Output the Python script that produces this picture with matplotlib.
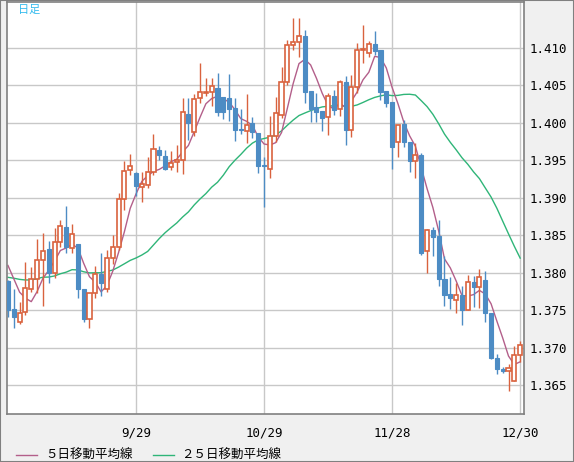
import numpy as np
import pandas as pd
import matplotlib
matplotlib.use("Agg")
import matplotlib.pyplot as plt
from matplotlib.patches import Rectangle

plt.rcParams['font.family'] = ['Noto Sans CJK JP', 'DejaVu Sans']

opens = [1.3789,1.3752,1.3735,1.3748,1.3779,1.3792,1.3817,1.3832,1.3800,1.3841,
         1.3861,1.3833,1.3838,1.3779,1.3739,1.3773,1.3798,1.3779,1.3820,1.3834,
         1.3898,1.3937,1.3933,1.3914,1.3917,1.3935,1.3964,1.3956,1.3941,1.3948,
         1.3950,1.4012,1.3988,1.4033,1.4040,1.4041,1.4046,1.4034,1.4033,1.4020,
         1.3992,1.3989,1.4000,1.3987,1.3944,1.3938,1.3983,1.4010,1.4055,1.4104,
         1.4108,1.4116,1.4042,1.4021,1.4016,1.4008,1.4036,1.4018,1.4055,1.3991,
         1.4048,1.4097,1.4093,1.4105,1.4097,1.4042,1.4028,1.3974,1.3998,1.3975,
         1.3949,1.3957,1.3829,1.3857,1.3849,1.3792,1.3772,1.3764,1.3771,1.3751,
         1.3788,1.3781,1.3791,1.3746,1.3686,1.3672,1.3669,1.3656,1.3690]
highs = [1.3790,1.3779,1.3761,1.3815,1.3808,1.3845,1.3853,1.3843,1.3860,1.3870,
         1.3889,1.3865,1.3838,1.3779,1.3773,1.3809,1.3826,1.3831,1.3850,1.3907,
         1.3949,1.3959,1.3934,1.3935,1.3955,1.3985,1.3969,1.3964,1.3963,1.3970,
         1.4033,1.4033,1.4039,1.4080,1.4060,1.4060,1.4066,1.4034,1.4065,1.4033,
         1.4018,1.4038,1.4008,1.3987,1.3955,1.4009,1.4034,1.4075,1.4111,1.4140,
         1.4140,1.4124,1.4042,1.4040,1.4016,1.4040,1.4044,1.4057,1.4062,1.4064,
         1.4106,1.4131,1.4109,1.4123,1.4097,1.4042,1.4028,1.3997,1.4004,1.3975,
         1.3973,1.3960,1.3859,1.3861,1.3870,1.3823,1.3795,1.3786,1.3782,1.3797,
         1.3796,1.3805,1.3803,1.3746,1.3692,1.3674,1.3678,1.3702,1.3709]
lows = [1.3741,1.3726,1.3732,1.3744,1.3774,1.3773,1.3756,1.3787,1.3793,1.3834,
        1.3826,1.3827,1.3766,1.3734,1.3727,1.3767,1.3769,1.3774,1.3812,1.3830,
        1.3884,1.3931,1.3902,1.3895,1.3913,1.3931,1.3950,1.3937,1.3937,1.3935,
        1.3932,1.3977,1.3983,1.4026,1.4036,1.4023,1.4009,1.4005,1.4002,1.3976,
        1.3985,1.3973,1.3980,1.3933,1.3888,1.3927,1.3975,1.4006,1.4050,1.4097,
        1.4088,1.4026,1.4001,1.4001,1.3989,1.3984,1.4010,1.4009,1.3970,1.3981,
        1.4040,1.4080,1.4088,1.4090,1.4031,1.4021,1.3938,1.3954,1.3968,1.3935,
        1.3926,1.3824,1.3800,1.3823,1.3783,1.3756,1.3752,1.3747,1.3730,1.3750,
        1.3755,1.3753,1.3734,1.3685,1.3665,1.3666,1.3642,1.3656,1.3681]
closes = [1.3750,1.3741,1.3746,1.3780,1.3792,1.3817,1.3829,1.3800,1.3841,1.3863,
          1.3834,1.3852,1.3778,1.3738,1.3773,1.3798,1.3787,1.3820,1.3834,1.3898,
          1.3936,1.3943,1.3916,1.3918,1.3935,1.3965,1.3957,1.3939,1.3946,1.3951,
          1.4014,1.4000,1.4032,1.4041,1.4041,1.4049,1.4015,1.4015,1.4019,1.3990,
          1.3990,1.3997,1.3988,1.3942,1.3943,1.3983,1.4013,1.4055,1.4104,1.4108,
          1.4116,1.4041,1.4018,1.4015,1.4007,1.4036,1.4017,1.4055,1.3990,1.4048,
          1.4097,1.4098,1.4105,1.4096,1.4041,1.4027,1.3968,1.3997,1.3974,1.3949,
          1.3957,1.3826,1.3857,1.3848,1.3792,1.3771,1.3766,1.3770,1.3751,1.3788,
          1.3781,1.3794,1.3746,1.3686,1.3672,1.3669,1.3673,1.3690,1.3704]
# closes before the visible window (estimated, only used for the moving averages)
prior_closes = [1.3770,1.3785,1.3800,1.3790,1.3775,1.3780,1.3795,1.3805,1.3790,1.3780,
                1.3770,1.3785,1.3800,1.3810,1.3795,1.3785,1.3775,1.3790,1.3800,1.3825,
                1.3830,1.3835,1.3820,1.3815]
date_labels = ['9/29', '10/29', '11/28', '12/30']
date_index = [22, 44, 66, 88]
ytick_vals = [1.365, 1.370, 1.375, 1.380, 1.385, 1.390, 1.395, 1.400, 1.405, 1.410]

allc = pd.Series(prior_closes + closes)
np_ = len(prior_closes)
ma5 = allc.rolling(5).mean().values[np_:]
ma25 = allc.rolling(25).mean().values[np_:]

W, H = 574, 462
fig = plt.figure(figsize=(W/100, H/100), dpi=100, facecolor='#f0f0f0')
ax = fig.add_axes([7/W, 1-414/H, 517/W, 412/H])
ax.set_facecolor('white')
n = len(closes)
x = np.arange(n)

RED = '#d9623e'
BLUE = '#4d8cc4'
ax.plot(x, ma25, color='#2fb578', lw=1.0, zorder=2)
ax.plot(x, ma5, color='#b35f8a', lw=1.0, zorder=2)
bw = 0.7
for i in range(n):
    o, h, l, c = opens[i], highs[i], lows[i], closes[i]
    up = c >= o
    col = RED if up else BLUE
    ax.vlines(i, l, h, color=col, lw=1.0, zorder=3)
    lo, hi = min(o, c), max(o, c)
    if up:
        ax.add_patch(Rectangle((i-bw/2, lo), bw, max(hi-lo, 0.00005),
                               facecolor='white', edgecolor=col, lw=1.2, zorder=4))
    else:
        ax.add_patch(Rectangle((i-bw/2, lo), bw, max(hi-lo, 0.00005),
                               facecolor=col, edgecolor=col, lw=0.8, zorder=4))

ax.set_xlim(-0.17, 88.66)
ax.set_ylim(1.3612, 1.41613)
ax.set_xticks(date_index)
ax.set_xticklabels(date_labels, fontsize=9, family='DejaVu Sans Mono')
ax.set_yticks(ytick_vals)
ax.set_yticklabels([f'{v:.3f}' for v in ytick_vals], fontsize=9, family='DejaVu Sans Mono')
ax.yaxis.tick_right()
ax.tick_params(axis='y', length=0, pad=4)
ax.tick_params(axis='x', length=0, pad=9)
ax.grid(True, color='#c8c8c8', lw=1.0, zorder=0)
for s in ax.spines.values():
    s.set_color('#808080')
    s.set_linewidth(1.2)
ax.text(0.022, 0.993, '日足', transform=ax.transAxes, color='#33bbee',
        fontsize=8, va='top', ha='left')

# legend
fig.add_artist(plt.Line2D([16/W, 37/W], [1-455/H, 1-455/H], color='#b35f8a', lw=1))
fig.text(45/W, 1-455/H, '５日移動平均線', fontsize=9, va='center')
fig.add_artist(plt.Line2D([153/W, 174/W], [1-455/H, 1-455/H], color='#2fb578', lw=1))
fig.text(181/W, 1-455/H, '２５日移動平均線', fontsize=9, va='center')
fig.add_artist(Rectangle((0, 0), 1, 1, transform=fig.transFigure, fill=False,
                         edgecolor='#808080', lw=1.5))
fig.savefig('out.png', dpi=100, facecolor=fig.get_facecolor())
